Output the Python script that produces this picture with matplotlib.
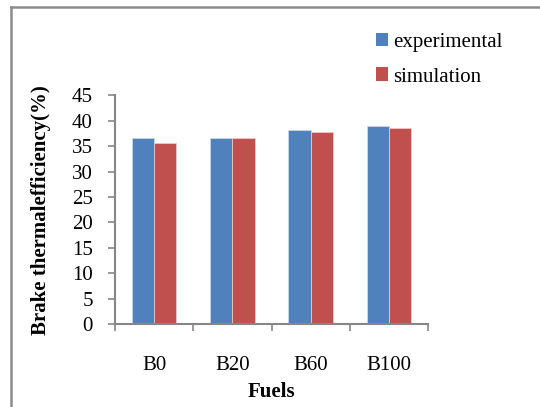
import numpy as np
import matplotlib.pyplot as plt
from matplotlib.lines import Line2D
from matplotlib.patches import Patch

plt.rcParams['font.family'] = ['Liberation Serif', 'DejaVu Serif']

fuels = ['B0', 'B20', 'B60', 'B100']
experimental = [36.7, 36.6, 38.2, 38.9]
simulation = [35.6, 36.7, 37.8, 38.55]
yticks = list(range(0, 50, 5))

blue = '#4F81BD'
red = '#C0504D'
axis_gray = '#868686'
fs = 15

fig = plt.figure(figsize=(5.4, 4.07), dpi=100)
ax = fig.add_axes([0.213, 0.2039, 0.5796, 0.5615])

x = np.arange(len(fuels))
w = 0.285
ax.bar(x - w / 2, experimental, w, color=blue, edgecolor='#c9d6ea', linewidth=0.6)
ax.bar(x + w / 2, simulation, w, color=red, edgecolor='#ecc8c7', linewidth=0.6)

ax.set_xlim(-0.5, len(fuels) - 0.5)
ax.set_ylim(0, 45)
ax.set_yticks(yticks)
# category boundaries get the tick marks, centres get the labels
ax.set_xticks(np.arange(-0.5, len(fuels), 1.0))
ax.set_xticklabels([])
ax.set_xticks(x, minor=True)
ax.set_xticklabels(fuels, minor=True)
ax.tick_params(axis='x', which='major', direction='out', length=5, width=1.2, color=axis_gray)
ax.tick_params(axis='x', which='minor', length=0, pad=23, labelsize=fs)
ax.tick_params(axis='y', direction='out', length=5, width=1.2, color=axis_gray,
               labelsize=fs, pad=11)

for s in ['top', 'right']:
    ax.spines[s].set_visible(False)
for s in ['left', 'bottom']:
    ax.spines[s].set_color(axis_gray)
    ax.spines[s].set_linewidth(1.5)

ax.set_ylabel('Brake thermalefficiency(%)', fontsize=fs, fontweight='bold', labelpad=15)
ax.set_xlabel('Fuels', fontsize=fs, fontweight='bold', labelpad=5)

handles = [Patch(facecolor=blue), Patch(facecolor=red)]
fig.legend(handles, ['experimental', 'simulation'], loc='upper left',
           bbox_to_anchor=(0.696, 0.92), frameon=False, fontsize=fs,
           handlelength=0.6, handleheight=0.65, handletextpad=0.25,
           labelspacing=0.75, borderpad=0, borderaxespad=0)

# outer frame (left and top edges)
fig.add_artist(Line2D([0.0204, 0.0204], [0.0, 0.983], transform=fig.transFigure,
                      color='#8c8c8c', linewidth=1.8))
fig.add_artist(Line2D([0.0204, 1.0], [0.983, 0.983], transform=fig.transFigure,
                      color='#8c8c8c', linewidth=1.8))

fig.savefig('out.png', dpi=100)
